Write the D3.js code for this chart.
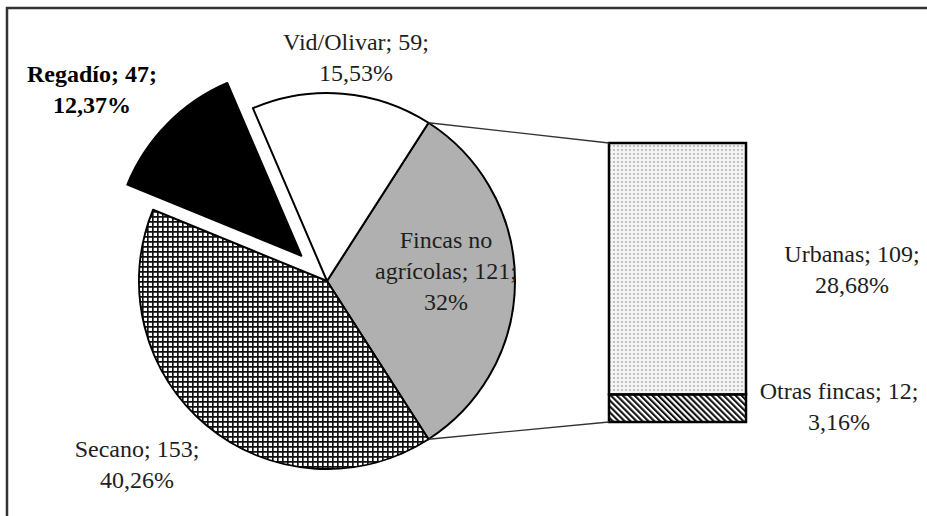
<!DOCTYPE html>
<html lang="es">
<head>
<meta charset="UTF-8">
<title>Fincas</title>
<style>
    body { margin: 0; background: #fff; }
    text {
        font-family: "Liberation Serif", "Times New Roman", serif;
        font-size: 24px;
        fill: #1e1e1e;
    }
</style>
</head>
<body>
<svg width="927" height="516"></svg>

<script src="https://d3js.org/d3.v7.min.js"></script>
<script>
    // data
    var pieNames = ["Fincas no agrícolas", "Secano", "Regadío", "Vid/Olivar"];
    var pieValues = [121, 153, 47, 59];
    var piePercents = ["32%", "40,26%", "12,37%", "15,53%"];

    var barNames = ["Otras fincas", "Urbanas"];
    var barValues = [12, 109];
    var barPercents = ["3,16%", "28,68%"];

    var svg = d3.select("svg");
    var width = +svg.attr("width"), height = +svg.attr("height");

    var cx = 327, cy = 281, r = 188;
    var explode = 36;

    var defs = svg.append("defs");

    // small square grid (Secano)
    var grid = defs.append("pattern").attr("id", "grid")
        .attr("patternUnits", "userSpaceOnUse").attr("width", 5).attr("height", 5);
    grid.append("rect").attr("width", 5).attr("height", 5).attr("fill", "#fff");
    grid.append("path").attr("d", "M0,0.8H5M0.8,0V5")
        .attr("stroke", "#111").attr("stroke-width", 1.7);

    // dots (Urbanas)
    var dots = defs.append("pattern").attr("id", "dots")
        .attr("patternUnits", "userSpaceOnUse").attr("width", 4).attr("height", 4);
    dots.append("rect").attr("width", 4).attr("height", 4).attr("fill", "#f4f4f4");
    dots.append("circle").attr("cx", 2).attr("cy", 2).attr("r", 0.9).attr("fill", "#a8a8a8");

    // diagonal stripes (Otras fincas)
    var diag = defs.append("pattern").attr("id", "diag")
        .attr("patternUnits", "userSpaceOnUse").attr("width", 4.2).attr("height", 4.2)
        .attr("patternTransform", "rotate(-45)");
    diag.append("rect").attr("width", 4.2).attr("height", 4.2).attr("fill", "#fff");
    diag.append("line").attr("x1", 1).attr("y1", 0).attr("x2", 1).attr("y2", 4.2)
        .attr("stroke", "#111").attr("stroke-width", 2.2);

    var fills = ["#b0b0b0", "url(#grid)", "#000", "#fff"];

    // frame
    svg.append("path").attr("d", "M7," + height + "V8H" + width)
        .attr("fill", "none").attr("stroke", "#333").attr("stroke-width", 2.5);

    var pieData = pieNames.map(function (n, i) {
        return { name: n, value: pieValues[i], pct: piePercents[i], fill: fills[i] };
    });
    var total = d3.sum(pieValues);

    // centre the split slice on 3 o'clock
    var start = Math.PI / 2 - Math.PI * pieValues[0] / total;
    var pie = d3.pie().sort(null).value(function (d) { return d.value; })
        .startAngle(start).endAngle(start + 2 * Math.PI);
    var arcs = pie(pieData);
    var arc = d3.arc().innerRadius(0).outerRadius(r);

    var gPie = svg.append("g").attr("transform", "translate(" + cx + "," + cy + ")");

    gPie.selectAll("path")
        .data(arcs)
        .enter().append("path")
        .attr("d", arc)
        .attr("fill", function (d) { return d.data.fill; })
        .attr("stroke", "#000")
        .attr("stroke-width", 2)
        .attr("stroke-linejoin", "round")
        .attr("transform", function (d) {
            if (d.data.name !== "Regadío") return null;
            var m = (d.startAngle + d.endAngle) / 2;
            return "translate(" + (Math.sin(m) * explode) + "," + (-Math.cos(m) * explode) + ")";
        });

    // bar of the split slice
    var barX = 609, barW = 137;
    var y = d3.scaleLinear().domain([0, d3.sum(barValues)]).range([422, 143]);
    var stacked = [];
    var acc = 0;
    barValues.forEach(function (v, i) {
        stacked.push({ name: barNames[i], value: v, pct: barPercents[i], y0: acc, y1: acc + v });
        acc += v;
    });
    var barFills = ["url(#diag)", "url(#dots)"];

    svg.append("g").selectAll("rect")
        .data(stacked)
        .enter().append("rect")
        .attr("x", barX)
        .attr("y", function (d) { return y(d.y1); })
        .attr("width", barW)
        .attr("height", function (d) { return y(d.y0) - y(d.y1); })
        .attr("fill", function (d, i) { return barFills[i]; })
        .attr("stroke", "#000")
        .attr("stroke-width", 2.5);

    // connector lines
    var split = arcs[0];
    var p1 = [cx + Math.sin(split.startAngle) * r, cy - Math.cos(split.startAngle) * r];
    var p2 = [cx + Math.sin(split.endAngle) * r, cy - Math.cos(split.endAngle) * r];
    svg.append("line").attr("x1", p1[0]).attr("y1", p1[1]).attr("x2", barX).attr("y2", y(acc))
        .attr("stroke", "#333").attr("stroke-width", 1.3);
    svg.append("line").attr("x1", p2[0]).attr("y1", p2[1]).attr("x2", barX).attr("y2", y(0))
        .attr("stroke", "#333").attr("stroke-width", 1.3);

    // labels: anchor (centre x, first baseline) and wrap width
    var labelPos = {
        "Fincas no agrícolas": [446, 248, 150],
        "Secano": [137, 457, 220],
        "Regadío": [92, 82, 220],
        "Vid/Olivar": [356, 50, 220],
        "Urbanas": [852, 262, 220],
        "Otras fincas": [839, 399, 220]
    };
    var lineH = 31;

    var labelData = pieData.concat(stacked);
    var labels = svg.append("g").selectAll("text")
        .data(labelData)
        .enter().append("text")
        .attr("text-anchor", "middle")
        .style("font-weight", function (d) { return d.name === "Regadío" ? "bold" : null; })
        .style("fill", function (d) { return d.name === "Regadío" ? "#000" : null; });

    labels.each(function (d) {
        var t = d3.select(this);
        var pos = labelPos[d.name];
        var words = (d.name + "; " + d.value + ";").split(" ");
        var lines = [], cur = [];
        var probe = t.append("tspan");
        words.forEach(function (w) {
            var test = cur.concat([w]).join(" ");
            probe.text(test);
            if (probe.node().getComputedTextLength() > pos[2] && cur.length) {
                lines.push(cur.join(" "));
                cur = [w];
            } else {
                cur.push(w);
            }
        });
        lines.push(cur.join(" "));
        lines.push(d.pct);
        probe.remove();
        lines.forEach(function (l, i) {
            t.append("tspan").attr("x", pos[0]).attr("y", pos[1] + i * lineH).text(l);
        });
    });
</script>
</body>
</html>
